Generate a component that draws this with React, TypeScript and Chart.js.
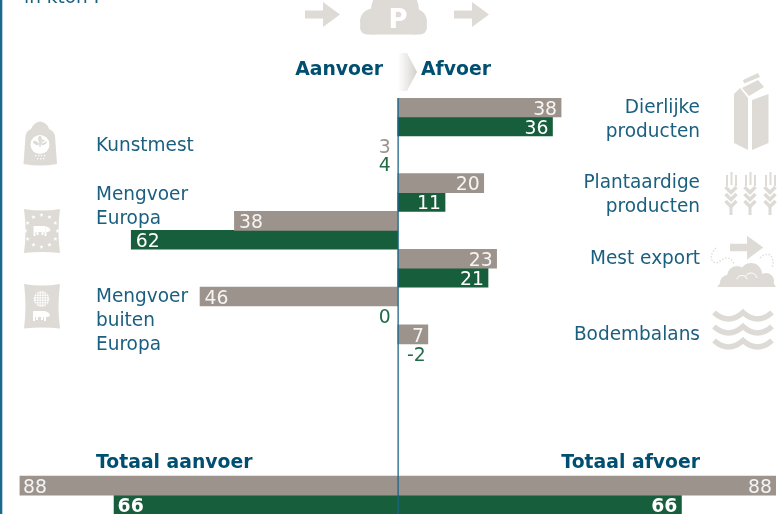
import { useEffect, useRef } from "react";
import { Chart, registerables } from "chart.js";

Chart.register(...registerables);

// Phosphate balance, kton P. Each row is a supply (Aanvoer) or disposal (Afvoer) item.
const categories = [
  "Dierlijke producten",
  "Kunstmest",
  "Plantaardige producten",
  "Mengvoer Europa",
  "Mest export",
  "Mengvoer buiten Europa",
  "Bodembalans",
  "",
  "",
  "",
  "Totaal",
];
const sides = [1, -1, 1, -1, 1, -1, 1, 0, 0, 0, 0];
const greyValues = [38, 3, 20, 38, 23, 46, 7, null, null, null, 88];
const greenValues = [36, 4, 11, 62, 21, 0, -2, null, null, null, 66];

const GREY = "#9c938c";
const GREEN = "#175e3d";
const GREEN_TEXT = "#236b48";
const BLUE = "#1a5f7f";
const NAVY = "#004f70";
const ICON = "#dedbd6";
const FONT = '"DejaVu Sans"';
const TEXT_SIZE = 20;
const TEXT_NARROW = 0.925;
const BOLD_NARROW = 0.94;

// Figures too small to carry their number inside a bar are shown as a number only.
const MIN_DRAWN = 5;

const signed = (v: number | null, i: number) => {
  if (v === null) return null;
  return sides[i] === 0 ? [-v, v] : sides[i] * v;
};

// Slightly narrowed text, closer to a Verdana-like set width.
function narrowText(c: CanvasRenderingContext2D, t: string, x: number, y: number, k = TEXT_NARROW) {
  c.save();
  c.translate(x, y);
  c.scale(k, 1);
  c.fillText(t, 0, 0);
  c.restore();
}

function star(c: CanvasRenderingContext2D, x: number, y: number, r: number) {
  c.beginPath();
  for (let i = 0; i < 10; i++) {
    const a = -Math.PI / 2 + (i * Math.PI) / 5;
    const q = i % 2 ? r * 0.42 : r;
    c.lineTo(x + q * Math.cos(a), y + q * Math.sin(a));
  }
  c.closePath();
  c.fill();
}

function poly(c: CanvasRenderingContext2D, pts: number[][]) {
  c.beginPath();
  pts.forEach(([x, y], i) => (i ? c.lineTo(x, y) : c.moveTo(x, y)));
  c.closePath();
  c.fill();
}

function arrow(c: CanvasRenderingContext2D, x: number, y: number, s = 1) {
  poly(c, [
    [x, y - 4 * s],
    [x + 18 * s, y - 4 * s],
    [x + 18 * s, y - 12.5 * s],
    [x + 35 * s, y],
    [x + 18 * s, y + 12.5 * s],
    [x + 18 * s, y + 4 * s],
    [x, y + 4 * s],
  ]);
}

function cow(c: CanvasRenderingContext2D, x: number, y: number) {
  c.fillStyle = "#ffffff";
  c.fillRect(x, y, 12, 6);
  c.fillRect(x, y + 6, 2, 4);
  c.fillRect(x + 3, y + 6, 2, 3);
  c.fillRect(x + 8, y + 6, 2, 3);
  c.fillRect(x + 11, y + 6, 2, 4);
  poly(c, [
    [x + 12, y],
    [x + 16, y + 2],
    [x + 17, y + 5],
    [x + 14, y + 6],
    [x + 12, y + 6],
  ]);
}

function sack(c: CanvasRenderingContext2D, x: number, y: number, w: number, h: number) {
  c.fillStyle = ICON;
  c.beginPath();
  c.moveTo(x, y);
  c.quadraticCurveTo(x + w / 2, y + 3, x + w, y);
  c.quadraticCurveTo(x + w - 3, y + h / 2, x + w, y + h);
  c.quadraticCurveTo(x + w / 2, y + h - 2, x, y + h);
  c.quadraticCurveTo(x + 3, y + h / 2, x, y);
  c.closePath();
  c.fill();
}

function drawIcons(c: CanvasRenderingContext2D) {
  c.save();
  c.fillStyle = ICON;
  c.strokeStyle = ICON;

  // Flow arrows and phosphate cloud at the top
  arrow(c, 305, 14.5);
  arrow(c, 454, 14.5);
  c.beginPath();
  c.arc(373, 21.5, 13, 0, Math.PI * 2);
  c.arc(395, 10, 24, 0, Math.PI * 2);
  c.arc(414, 21.5, 13, 0, Math.PI * 2);
  c.fill();
  c.beginPath();
  c.roundRect(360, 20, 67, 14.5, 7);
  c.fill();
  c.fillStyle = "#ffffff";
  c.font = `bold 26px ${FONT}`;
  c.textAlign = "center";
  c.textBaseline = "alphabetic";
  c.fillText("P", 398, 28);

  // Kunstmest sack with a bunched neck
  c.fillStyle = ICON;
  c.beginPath();
  c.moveTo(31, 129);
  c.quadraticCurveTo(34, 122, 40, 121.5);
  c.quadraticCurveTo(47, 122, 49, 129);
  c.quadraticCurveTo(54, 131, 55, 136);
  c.lineTo(57, 164);
  c.quadraticCurveTo(40, 167, 23.5, 164);
  c.lineTo(25.5, 136);
  c.quadraticCurveTo(26, 131, 31, 129);
  c.closePath();
  c.fill();
  c.fillStyle = "#ffffff";
  c.beginPath();
  c.arc(40, 144.5, 9.5, 0, Math.PI * 2);
  c.fill();
  c.fillStyle = ICON;
  c.fillRect(39.3, 138, 1.5, 9);
  c.beginPath();
  c.ellipse(36, 143, 3.2, 1.8, 0.5, 0, Math.PI * 2);
  c.ellipse(44, 143, 3.2, 1.8, -0.5, 0, Math.PI * 2);
  c.ellipse(40, 139, 1.8, 3, 0, 0, Math.PI * 2);
  c.fill();
  [35, 38, 41, 44, 37, 40, 43].forEach((x, i) => {
    c.fillStyle = "#ffffff";
    c.fillRect(x, i < 4 ? 155 : 158, 1.3, 1.3);
  });

  // Mengvoer Europa sack with a ring of stars
  sack(c, 24, 209, 36, 44);
  c.fillStyle = "#ffffff";
  for (let i = 0; i < 12; i++) {
    const a = (i * Math.PI) / 6;
    star(c, 41.5 + 16 * Math.cos(a), 231 + 16 * Math.sin(a), 2.3);
  }
  cow(c, 33.5, 226);

  // Mengvoer buiten Europa sack with a globe
  sack(c, 24, 284, 36, 44.5);
  c.fillStyle = "#ffffff";
  c.beginPath();
  c.arc(41.5, 299, 7.8, 0, Math.PI * 2);
  c.fill();
  c.strokeStyle = ICON;
  c.lineWidth = 0.7;
  for (let d = -5; d <= 5; d += 2.5) {
    c.beginPath();
    c.moveTo(33.5, 299 + d);
    c.lineTo(49.5, 299 + d);
    c.moveTo(41.5 + d, 291);
    c.lineTo(41.5 + d, 307);
    c.stroke();
  }
  cow(c, 33, 311);

  // Milk carton
  c.fillStyle = ICON;
  poly(c, [[734, 94], [740, 88], [748, 98], [748, 150], [734, 143]]);
  poly(c, [[752, 100], [768.5, 94], [768.5, 143], [752, 150]]);
  poly(c, [[742, 88], [758, 80], [764, 87], [749, 96]]);
  poly(c, [[743, 80], [758, 73], [760, 77], [744, 83.5]]);

  // Three ears of wheat
  c.strokeStyle = ICON;
  [731, 750, 770].forEach((x) => {
    c.lineWidth = 2;
    c.beginPath();
    c.moveTo(x + 0.5, 172);
    c.lineTo(x + 0.5, 185);
    c.moveTo(x - 4, 175);
    c.lineTo(x - 4, 186);
    c.moveTo(x + 5, 175);
    c.lineTo(x + 5, 186);
    c.stroke();
    c.lineWidth = 3.5;
    [187, 194, 201].forEach((y) => {
      c.beginPath();
      c.moveTo(x - 5.5, y);
      c.lineTo(x, y + 5.5);
      c.lineTo(x + 5.5, y);
      c.stroke();
    });
    c.lineWidth = 3;
    c.beginPath();
    c.moveTo(x, 206);
    c.lineTo(x, 215);
    c.stroke();
  });

  // Manure heap with export arrow
  c.fillStyle = ICON;
  arrow(c, 730, 247.5, 0.95);
  c.beginPath();
  c.arc(728, 283, 8, 0, Math.PI * 2);
  c.arc(737, 276, 10, 0, Math.PI * 2);
  c.arc(751, 274, 11, 0, Math.PI * 2);
  c.arc(766, 281, 8, 0, Math.PI * 2);
  c.fill();
  c.fillStyle = "#ffffff";
  c.fillRect(715, 287, 64, 12);
  c.fillStyle = ICON;
  poly(c, [[717, 287], [728, 274], [768, 274], [776, 287]]);
  c.strokeStyle = "#ffffff";
  c.lineWidth = 1;
  c.beginPath();
  c.arc(742, 281, 5.5, Math.PI * 1.1, Math.PI * 1.9);
  c.moveTo(746, 276.5);
  c.arc(751, 279, 6, Math.PI * 1.15, Math.PI * 1.95);
  c.stroke();
  c.strokeStyle = ICON;
  c.lineWidth = 1.4;
  c.setLineDash([1.4, 1.8]);
  c.beginPath();
  c.moveTo(716, 248);
  c.bezierCurveTo(707, 256, 712, 268, 722, 260);
  c.bezierCurveTo(726, 256, 732, 258, 734, 264);
  c.moveTo(760, 258);
  c.bezierCurveTo(768, 250, 776, 256, 772, 268);
  c.stroke();
  c.setLineDash([]);

  // Soil balance waves
  c.lineWidth = 5.5;
  [0, 14, 28].forEach((d) => {
    const y = 312.5 + d;
    c.beginPath();
    c.moveTo(714, y);
    c.quadraticCurveTo(728.5, y + 13, 743, y);
    c.quadraticCurveTo(757.5, y + 13, 772, y);
    c.stroke();
  });

  // Chevron between the two column headings
  const g = c.createLinearGradient(398, 0, 417, 0);
  g.addColorStop(0, "rgba(216,213,208,0)");
  g.addColorStop(1, "#d3d0cb");
  c.fillStyle = g;
  poly(c, [[398, 53], [407, 53], [417, 72], [407, 91], [398, 91]]);

  // Page edge rule
  c.fillStyle = "#1a6a8e";
  c.fillRect(0, 0, 2.3, 514);
  c.restore();
}

type TextItem = [string, number, number, CanvasTextAlign, boolean];

const captions: TextItem[] = [
  ["in kton P", 24, 3, "left", false],
  ["Aanvoer", 383, 75, "right", true],
  ["Afvoer", 421, 75, "left", true],
  ["Kunstmest", 96, 151, "left", false],
  ["Mengvoer", 96, 200, "left", false],
  ["Europa", 96, 224, "left", false],
  ["Mengvoer", 96, 302, "left", false],
  ["buiten", 96, 326, "left", false],
  ["Europa", 96, 350, "left", false],
  ["Dierlijke", 700, 113, "right", false],
  ["producten", 700, 137, "right", false],
  ["Plantaardige", 700, 188, "right", false],
  ["producten", 700, 212, "right", false],
  ["Mest export", 700, 264, "right", false],
  ["Bodembalans", 700, 340, "right", false],
  ["Totaal aanvoer", 96, 468, "left", true],
  ["Totaal afvoer", 700, 468, "right", true],
];

const iconsPlugin = {
  id: "icons",
  beforeDatasetsDraw(chart: Chart) {
    const c = chart.ctx;
    drawIcons(c);
    c.save();
    c.textBaseline = "alphabetic";
    captions.forEach(([t, x, y, align, bold]) => {
      c.font = `${bold ? "bold " : ""}${TEXT_SIZE}px ${FONT}`;
      c.fillStyle = bold ? NAVY : BLUE;
      c.textAlign = align;
      narrowText(c, t, x, y, bold ? BOLD_NARROW : TEXT_NARROW);
    });
    c.restore();
  },
};

const valueLabels = {
  id: "valueLabels",
  afterDatasetsDraw(chart: Chart) {
    const c = chart.ctx;
    const xs = chart.scales.x;
    const zero = xs.getPixelForValue(0);
    c.save();
    c.textBaseline = "alphabetic";

    const series = [
      { values: greyValues, strong: "rgba(255,255,255,0.9)", weak: GREY },
      { values: greenValues, strong: "#ffffff", weak: GREEN_TEXT },
    ];
    series.forEach((s, ds) => {
      const meta = chart.getDatasetMeta(ds);
      s.values.forEach((v, i) => {
        if (v === null) return;
        const y = (meta.data[i] as any).y + 7.3;
        c.font = `${sides[i] === 0 && ds === 1 ? "bold " : ""}${TEXT_SIZE}px ${FONT}`;
        if (sides[i] === 0) {
          c.fillStyle = s.strong;
          c.textAlign = "left";
          narrowText(c, String(v), xs.getPixelForValue(-v) + 3.5, y, BOLD_NARROW);
          c.textAlign = "right";
          narrowText(c, String(v), xs.getPixelForValue(v) - 4, y, BOLD_NARROW);
        } else if (Math.abs(v) < MIN_DRAWN) {
          c.fillStyle = s.weak;
          c.textAlign = "right";
          narrowText(c, String(v), sides[i] < 0 ? zero - 7 : zero + 28, y, BOLD_NARROW);
        } else if (sides[i] < 0) {
          c.fillStyle = s.strong;
          c.textAlign = "left";
          narrowText(c, String(v), xs.getPixelForValue(-v) + 4.5, y, BOLD_NARROW);
        } else {
          c.fillStyle = s.strong;
          c.textAlign = "right";
          narrowText(c, String(v), xs.getPixelForValue(v) - 4, y, BOLD_NARROW);
        }
      });
    });

    // Central axis runs over the bars
    c.strokeStyle = "rgba(26,100,135,0.8)";
    c.lineWidth = 1.6;
    c.beginPath();
    c.moveTo(zero + 0.4, chart.chartArea.top);
    c.lineTo(zero + 0.4, chart.chartArea.bottom);
    c.stroke();
    c.restore();
  },
};

export default function App() {
  const ref = useRef<HTMLCanvasElement>(null);

  useEffect(() => {
    const fill = (values: (number | null)[], colour: string) => (ctx: any) => {
      const v = values[ctx.dataIndex];
      return v !== null && Math.abs(v) < MIN_DRAWN ? "rgba(0,0,0,0)" : colour;
    };
    const chart = new Chart(ref.current!, {
      type: "bar",
      data: {
        labels: categories,
        datasets: [
          {
            label: "Grijs",
            data: greyValues.map(signed) as any,
            backgroundColor: fill(greyValues, GREY),
            categoryPercentage: 1,
            barPercentage: 1,
          },
          {
            label: "Groen",
            data: greenValues.map(signed) as any,
            backgroundColor: fill(greenValues, GREEN),
            categoryPercentage: 1,
            barPercentage: 1,
          },
        ],
      },
      options: {
        indexAxis: "y",
        responsive: false,
        animation: false,
        layout: { padding: { left: 19.5, right: 3, top: 98, bottom: 16 } },
        plugins: { legend: { display: false }, tooltip: { enabled: false } },
        scales: {
          x: { display: false, min: -88, max: 88 },
          y: { display: false },
        },
      },
      plugins: [iconsPlugin, valueLabels],
    });
    return () => chart.destroy();
  }, []);

  return (
    <canvas
      ref={ref}
      width={779}
      height={530}
      style={{ position: "absolute", left: 0, top: 0, display: "block", background: "#ffffff" }}
    />
  );
}
